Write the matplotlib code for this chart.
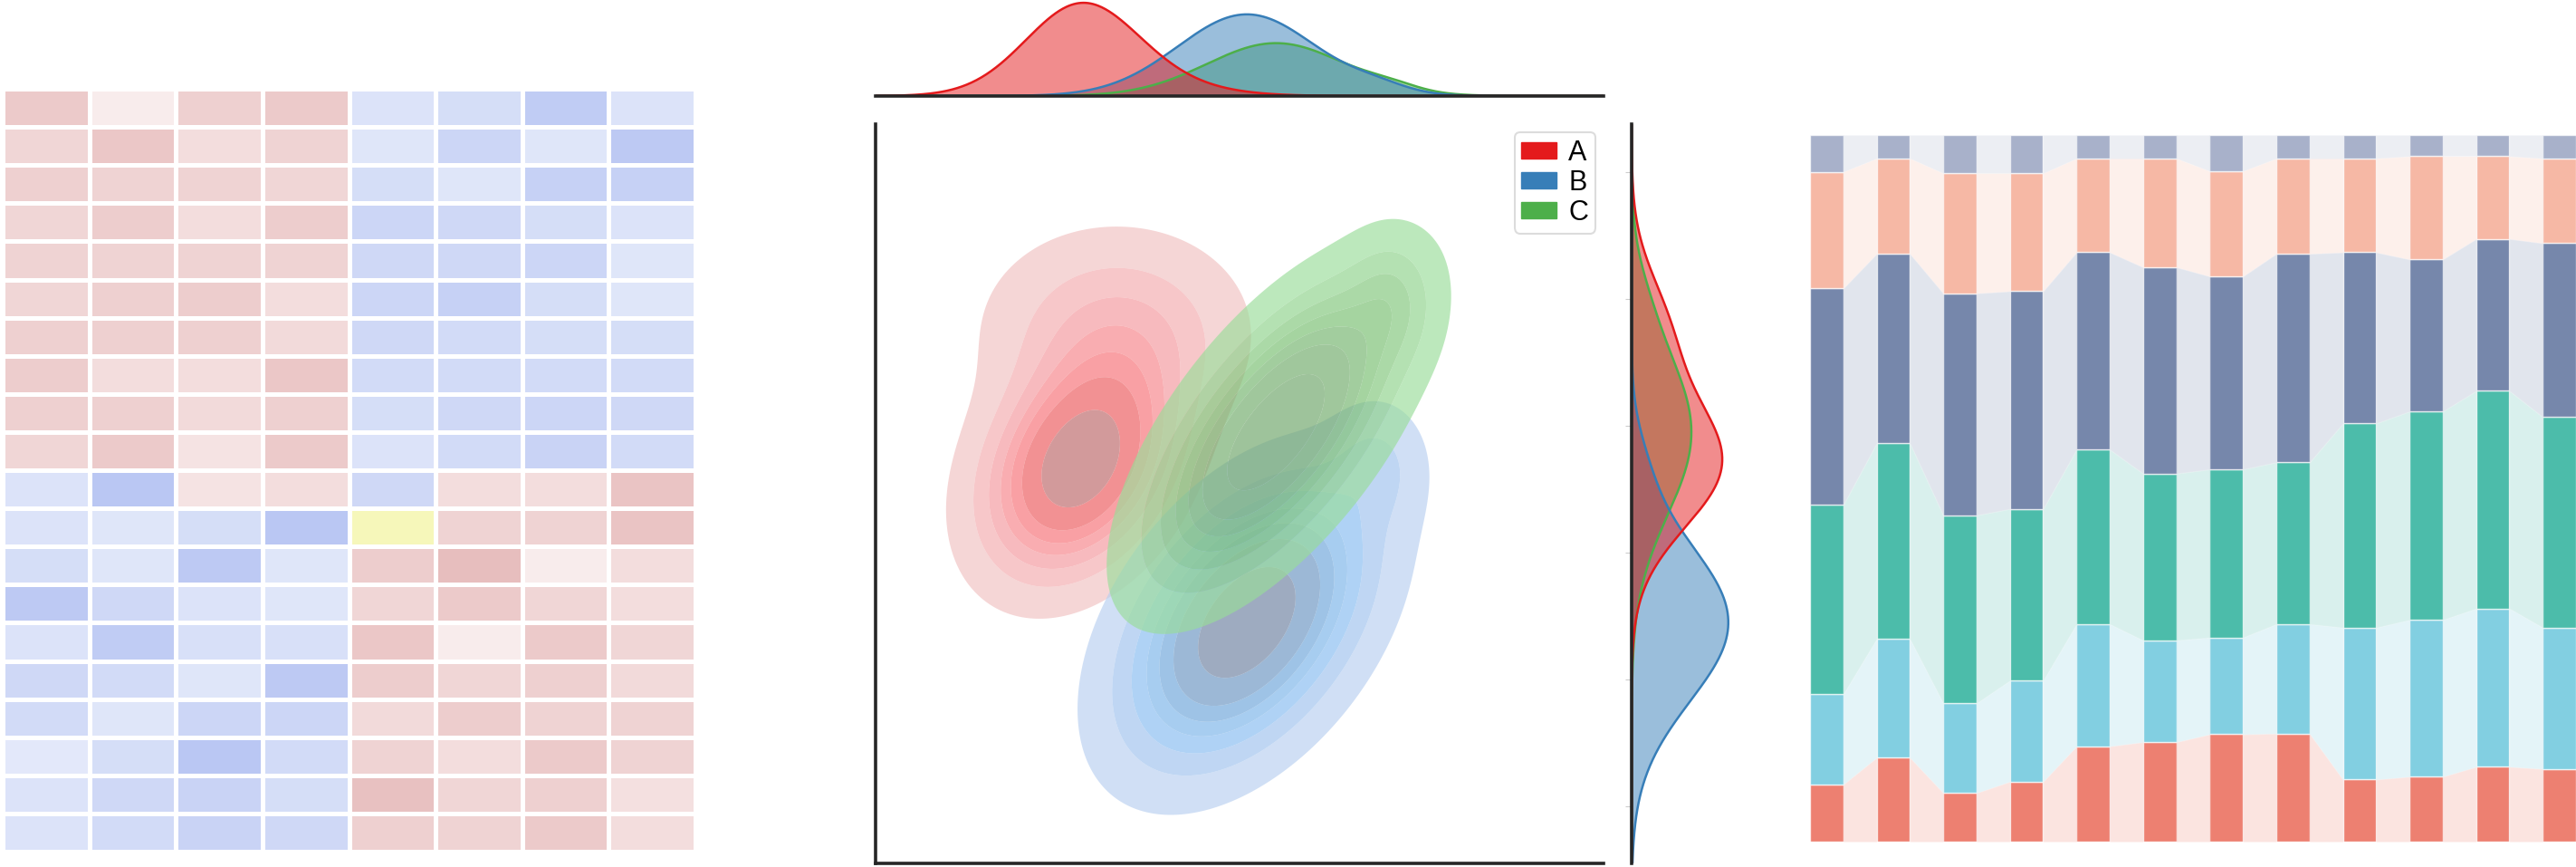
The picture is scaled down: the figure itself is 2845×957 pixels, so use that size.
import numpy as np
import matplotlib
matplotlib.use('agg')
from matplotlib import pyplot as plt
from matplotlib.colors import LinearSegmentedColormap, to_rgb
from matplotlib.patches import Patch

plt.rcParams['font.family'] = ['Liberation Sans', 'DejaVu Sans']

W, H = 2845, 957

# ---------------- heatmap data (20 rows x 8 cols), nan = highlighted cell
heat = np.array([
    [0.60, 0.10, 0.50, 0.60, -0.35, -0.45, -0.80, -0.35],
    [0.40, 0.65, 0.30, 0.45, -0.30, -0.60, -0.30, -0.85],
    [0.50, 0.45, 0.45, 0.40, -0.45, -0.30, -0.70, -0.70],
    [0.40, 0.55, 0.30, 0.55, -0.60, -0.55, -0.45, -0.35],
    [0.45, 0.45, 0.45, 0.45, -0.55, -0.55, -0.60, -0.30],
    [0.40, 0.50, 0.55, 0.30, -0.60, -0.70, -0.45, -0.30],
    [0.50, 0.50, 0.50, 0.35, -0.55, -0.50, -0.45, -0.45],
    [0.55, 0.30, 0.30, 0.65, -0.50, -0.50, -0.50, -0.50],
    [0.50, 0.50, 0.35, 0.50, -0.45, -0.55, -0.60, -0.55],
    [0.40, 0.60, 0.20, 0.60, -0.35, -0.50, -0.65, -0.50],
    [-0.35, -0.90, 0.20, 0.30, -0.55, 0.30, 0.30, 0.70],
    [-0.35, -0.30, -0.45, -0.90, np.nan, 0.45, 0.45, 0.70],
    [-0.45, -0.30, -0.85, -0.30, 0.55, 0.80, 0.10, 0.30],
    [-0.85, -0.55, -0.35, -0.30, 0.40, 0.60, 0.40, 0.30],
    [-0.35, -0.80, -0.40, -0.40, 0.65, 0.10, 0.60, 0.40],
    [-0.55, -0.50, -0.30, -0.85, 0.55, 0.40, 0.50, 0.35],
    [-0.50, -0.30, -0.60, -0.60, 0.35, 0.55, 0.45, 0.45],
    [-0.25, -0.45, -0.90, -0.50, 0.45, 0.30, 0.60, 0.45],
    [-0.35, -0.55, -0.65, -0.45, 0.75, 0.40, 0.50, 0.25],
    [-0.35, -0.50, -0.65, -0.55, 0.50, 0.45, 0.60, 0.30],
])

# ---------------- density groups: gaussian components (mx, my, sx, sy, rho, weight)
groups = ['A', 'B', 'C']
group_colors = ['#e41a1c', '#377eb8', '#4daf4a']
group_share = [1.0, 1.05, 0.68]
comp_A = [(2.80, 2.70, 0.75, 0.50, 0.30, 0.75),
          (3.30, 3.75, 1.00, 0.45, 0.00, 0.25)]
comp_B = [(5.10, 1.45, 0.95, 0.62, 0.45, 0.97),
          (6.90, 2.70, 0.40, 0.30, 0.00, 0.03)]
comp_C = [(5.50, 2.95, 0.95, 0.65, 0.66, 0.97),
          (7.10, 4.00, 0.35, 0.30, 0.00, 0.03)]
components = [comp_A, comp_B, comp_C]

band_A = ['#f6d6d6', '#f7c8ca', '#f8bbbe', '#f9aeb1', '#f9a1a4', '#f29294', '#d39a9b']
band_B = ['#d0e0f5', '#bfd7f4', '#afd2f5', '#a8cdf0', '#9fc4e6', '#9cb8d6', '#9facc0']
band_C = ['#bde9bd', '#b4e1b2', '#acdaa8', '#a5d4a1', '#a2cd9e', '#a0c79c', '#9fc39b']
bands = [band_A, band_B, band_C]
level_frac = [0.05, 0.15, 0.25, 0.35, 0.45, 0.57, 0.78]

# ---------------- stacked bars (percent per bar, bottom to top)
seg_red = [8.1, 11.9, 6.9, 8.5, 13.5, 14.1, 15.2, 15.3, 8.8, 9.2, 10.6, 10.3]
seg_cyan = [12.8, 16.8, 12.7, 14.3, 17.3, 14.4, 13.7, 15.5, 21.5, 22.2, 22.4, 20.0]
seg_teal = [26.8, 27.7, 26.6, 24.3, 24.7, 23.6, 23.8, 22.9, 28.9, 29.5, 30.8, 29.8]
seg_blue = [30.6, 26.8, 31.4, 30.8, 27.9, 29.2, 27.3, 29.5, 24.2, 21.5, 21.5, 24.6]
seg_peach = [16.5, 13.5, 17.0, 16.7, 13.3, 15.4, 14.9, 13.5, 13.3, 14.6, 11.7, 12.0]
seg_gray = [5.2, 3.3, 5.4, 5.4, 3.3, 3.3, 5.1, 3.3, 3.3, 3.0, 3.0, 3.3]
segments = [seg_red, seg_cyan, seg_teal, seg_blue, seg_peach, seg_gray]
seg_colors = ['#E64B35', '#4DBBD5', '#00A087', '#3C5488', '#F39B7F', '#8491B4']


def under_alpha(hexcol, a):
    # colour that gives hexcol when drawn with alpha a over white
    c = np.array(to_rgb(hexcol))
    return tuple(np.clip(1 - (1 - c) / a, 0, 1))


def gauss2d(X, Y, mx, my, sx, sy, rho):
    zx = (X - mx) / sx
    zy = (Y - my) / sy
    q = (zx**2 - 2 * rho * zx * zy + zy**2) / (1 - rho**2)
    return np.exp(-q / 2) / (2 * np.pi * sx * sy * np.sqrt(1 - rho**2))


def gauss1d(x, m, s):
    return np.exp(-0.5 * ((x - m) / s)**2) / (s * np.sqrt(2 * np.pi))


fig = plt.figure(figsize=(W / 100, H / 100), dpi=100)

# ---------------- heatmap
ax_h = fig.add_axes([3 / W, 1 - 940 / H, 765 / W, 842 / H])
cmap = LinearSegmentedColormap.from_list('pale', [
    (0.0, '#b4c2f2'), (0.25, '#d2dbf7'), (0.4, '#e6ebfa'), (0.5, '#faf5f5'),
    (0.6, '#f5e3e3'), (0.75, '#eed0d0'), (1.0, '#e3b2b2')])
cmap.set_bad('#f6f7ba')
ax_h.pcolormesh(np.ma.masked_invalid(heat), cmap=cmap, vmin=-1, vmax=1,
                edgecolors='white', linewidth=2.4)
ax_h.set_xlim(0, 8)
ax_h.set_ylim(20, 0)
ax_h.axis('off')

# ---------------- joint kde
xlim = (0, 10)
ylim = (-0.45, 5.38)
ax_j = fig.add_axes([967 / W, 1 - 953 / H, 804 / W, 816 / H])
ax_t = fig.add_axes([967 / W, 1 - 106 / H, 804 / W, 106 / H], sharex=ax_j)
ax_r = fig.add_axes([1802 / W, 1 - 953 / H, 110 / W, 816 / H], sharey=ax_j)

gx = np.linspace(xlim[0], xlim[1], 400)
gy = np.linspace(ylim[0], ylim[1], 400)
X, Y = np.meshgrid(gx, gy)
alpha = 0.65

for comps, cols in zip(components, bands):
    dens = sum(w * gauss2d(X, Y, mx, my, sx, sy, r) for mx, my, sx, sy, r, w in comps)
    levels = [f * dens.max() for f in level_frac] + [dens.max() * 1.01]
    ax_j.contourf(X, Y, dens, levels=levels,
                  colors=[under_alpha(col, alpha) for col in cols], alpha=alpha,
                  antialiased=True)

ax_j.set_xlim(*xlim)
ax_j.set_ylim(*ylim)
for s in ['top', 'right']:
    ax_j.spines[s].set_visible(False)
for s in ['left', 'bottom']:
    ax_j.spines[s].set_linewidth(2.6)
    ax_j.spines[s].set_color('#262626')
ax_j.tick_params(left=False, bottom=False, labelleft=False, labelbottom=False)

handles = [Patch(facecolor=c, edgecolor=c, label=g) for g, c in zip(groups, group_colors)]
leg = ax_j.legend(handles=handles, loc='upper right', fontsize=22, frameon=True,
                  handlelength=1.25, handleheight=0.5, handletextpad=0.45,
                  labelspacing=0.1, borderpad=0.25, borderaxespad=0.3, fancybox=True)
leg.get_frame().set_edgecolor('#d4d4d4')
leg.get_frame().set_linewidth(1.5)

# ---------------- marginals (drawn in reverse order)
xs = np.linspace(xlim[0], xlim[1], 600)
ys = np.linspace(ylim[0], ylim[1], 600)
top_max = 0
right_max = 0
for k in [2, 1, 0]:
    comps = components[k]
    col = group_colors[k]
    share = group_share[k]
    dx = share * sum(w * gauss1d(xs, mx, sx) for mx, my, sx, sy, r, w in comps)
    dy = share * sum(w * gauss1d(ys, my, sy) for mx, my, sx, sy, r, w in comps)
    ax_t.fill_between(xs, 0, dx, facecolor=col, alpha=0.5, linewidth=0)
    ax_t.plot(xs, dx, color=col, linewidth=1.8)
    ax_r.fill_betweenx(ys, 0, dy, facecolor=col, alpha=0.5, linewidth=0)
    ax_r.plot(dy, ys, color=col, linewidth=1.8)
    top_max = max(top_max, dx.max())
    right_max = max(right_max, dy.max())

ax_t.set_ylim(0, top_max * 1.03)
for s in ['top', 'right', 'left']:
    ax_t.spines[s].set_visible(False)
ax_t.spines['bottom'].set_linewidth(2.6)
ax_t.spines['bottom'].set_color('#262626')
ax_t.tick_params(left=False, bottom=False, labelleft=False, labelbottom=False)

ax_r.set_xlim(0, right_max * 1.03)
for s in ['top', 'right', 'bottom']:
    ax_r.spines[s].set_visible(False)
ax_r.spines['left'].set_linewidth(2.6)
ax_r.spines['left'].set_color('#262626')
ax_r.set_yticks(np.arange(0, 6))
ax_r.tick_params(axis='y', length=5, width=0.8, color='#cccccc', labelleft=False)
ax_r.tick_params(bottom=False, labelbottom=False)

# ---------------- stacked bars with connecting bands
ax_b = fig.add_axes([1999 / W, 1 - 929 / H, 846 / W, 780 / H])
n = len(seg_red)
pos = np.arange(n)
bw = 0.5
bottom = np.zeros(n)
for vals, col in zip(segments, seg_colors):
    vals = np.array(vals) / 100
    top = bottom + vals
    ax_b.bar(pos, vals, bw, bottom=bottom, color=col, alpha=0.7,
             edgecolor=(1, 1, 1, 0.5), linewidth=1)
    for i in range(n - 1):
        bx = [pos[i] + bw / 2, pos[i + 1] - bw / 2]
        ax_b.fill_between(bx, [bottom[i], bottom[i + 1]], [top[i], top[i + 1]],
                          facecolor=col, alpha=0.15, edgecolor=(1, 1, 1, 0.5), linewidth=1)
    bottom = top
ax_b.set_xlim(-0.25, n - 0.75)
ax_b.set_ylim(0, 1)
ax_b.axis('off')

fig.savefig('out.png', dpi=100)
